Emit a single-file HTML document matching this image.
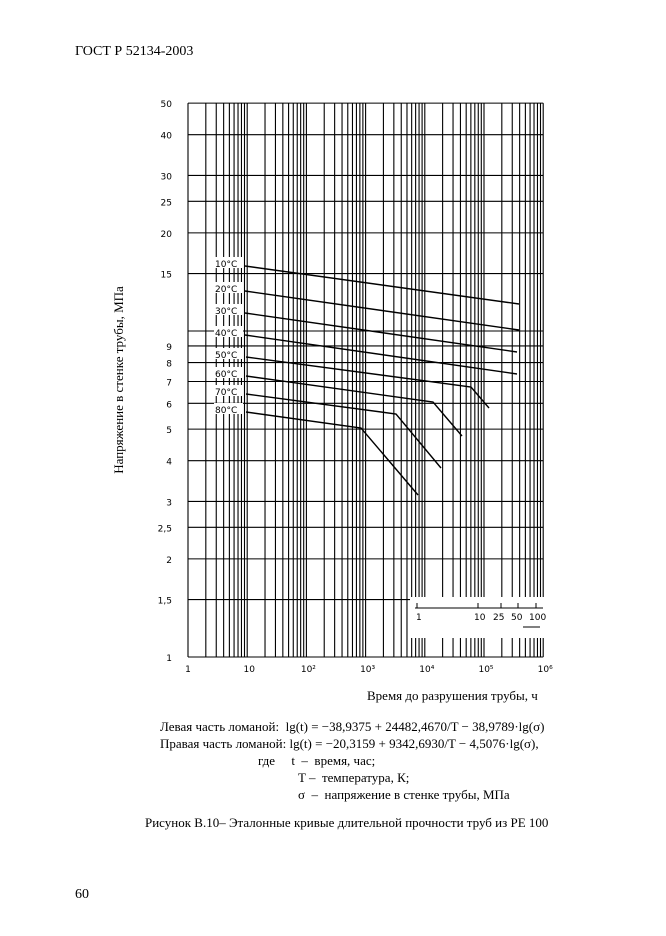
<!DOCTYPE html>
<html><head><meta charset="utf-8"><style>
html,body{margin:0;padding:0;background:#fff}
svg{display:block}
text{white-space:pre}
</style></head><body>
<svg width="666" height="936" xmlns="http://www.w3.org/2000/svg" font-family="Liberation Serif, serif">
<rect width="666" height="936" fill="#fff"/>
<text x="75" y="55" font-size="14">ГОСТ Р 52134-2003</text>
<g id="grid" stroke="#000" stroke-width="1.1"></g>
<rect x="410" y="597" width="134" height="41" fill="#fff"/>
<g stroke="#000" stroke-width="1">
<line x1="415" y1="608" x2="543" y2="608"/>
<line x1="417" y1="603" x2="417" y2="608"/>
<line x1="478" y1="603" x2="478" y2="608"/>
<line x1="501" y1="603" x2="501" y2="608"/>
<line x1="518" y1="603" x2="518" y2="608"/>
<line x1="536" y1="603" x2="536" y2="608"/>
<line x1="523" y1="627" x2="540" y2="627"/>
</g>
<g font-family="DejaVu Sans, sans-serif" font-size="9">
<text x="416" y="620">1</text><text x="474" y="620">10</text><text x="493" y="620">25</text><text x="511" y="620">50</text><text x="529" y="620">100</text>
</g>
<g id="labels" font-family="DejaVu Sans, sans-serif" font-size="9"></g>
<g stroke="#000" stroke-width="1.4" fill="none">
<polyline points="245,266 519,304"/>
<polyline points="245,291 519,330"/>
<polyline points="245,313 517,352"/>
<polyline points="245,335 517,374"/>
<polyline points="246,357 471,387 489,408"/>
<polyline points="246,376 433,402 462,436"/>
<polyline points="246,394 396,414 441,468"/>
<polyline points="246,412 361,428 418,495"/>
</g>
<text transform="translate(123,380) rotate(-90)" text-anchor="middle" font-size="13">Напряжение в стенке трубы, МПа</text>
<text x="367" y="700" font-size="13">Время до разрушения трубы, ч</text>
<g font-size="13">
<text x="160" y="731">Левая часть ломаной:  lg(t) = −38,9375 + 24482,4670/T − 38,9789·lg(σ)</text>
<text x="160" y="748">Правая часть ломаной: lg(t) = −20,3159 + 9342,6930/T − 4,5076·lg(σ),</text>
<text x="258" y="765">где     t  –  время, час;</text>
<text x="298" y="782">T –  температура, К;</text>
<text x="298" y="799">σ  –  напряжение в стенке трубы, МПа</text>
<text x="145" y="827">Рисунок В.10– Эталонные кривые длительной прочности труб из PE 100</text>
<text x="75" y="898" font-size="14">60</text>
</g>
<script>
const ns="http://www.w3.org/2000/svg";
const g=document.getElementById('grid'),L=document.getElementById('labels');
const x0=188,dx=59.2,y0=657,dy=326;
function X(v){return x0+dx*Math.log10(v)}function Y(v){return y0-dy*Math.log10(v)}
function ln(a,b,c,d){const l=document.createElementNS(ns,'line');l.setAttribute('x1',a);l.setAttribute('y1',b);l.setAttribute('x2',c);l.setAttribute('y2',d);g.appendChild(l)}
function tx(x,y,s,a){const t=document.createElementNS(ns,'text');t.setAttribute('x',x);t.setAttribute('y',y);if(a)t.setAttribute('text-anchor',a);t.textContent=s;L.appendChild(t)}
for(let e=0;e<6;e++)for(let m=1;m<10;m++){const x=X(m*Math.pow(10,e));ln(x,Y(50),x,y0)}
ln(X(1e6),Y(50),X(1e6),y0);
const ys=[1,1.5,2,2.5,3,4,5,6,7,8,9,10,15,20,25,30,40,50];
ys.forEach(v=>{ln(x0,Y(v),X(1e6),Y(v));if(v!=10)tx(172,Y(v)+4,String(v).replace('.',','),'end')});
['1','10','10²','10³','10⁴','10⁵','10⁶'].forEach((s,i)=>tx(X(Math.pow(10,i))+(i?2:0),672,s,'middle'));
const lab=[['10°C',266],['20°C',291],['30°C',313],['40°C',335],['50°C',357],['60°C',376],['70°C',394],['80°C',412]];
lab.forEach(([s,y])=>{const r=document.createElementNS(ns,'rect');r.setAttribute('x',214);r.setAttribute('y',y-9);r.setAttribute('width',29);r.setAttribute('height',11);r.setAttribute('fill','#fff');L.appendChild(r);tx(215,y+1,s)});
</script>
</svg>
</body></html>
